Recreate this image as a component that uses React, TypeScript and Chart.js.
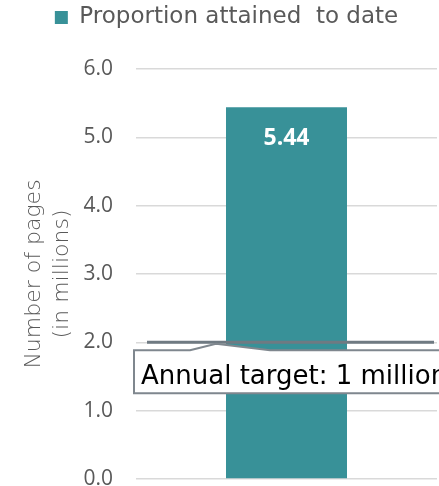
import { useEffect, useRef } from "react";
import { Chart, registerables } from "chart.js";

Chart.register(...registerables);

const categories = [""];
const seriesLabel = "Proportion attained  to date";
const attainedValues = [5.44];
const targetValues = [2.0];
const targetLabel = "Annual target: 1 million";
const yAxisTitle = ["Number of pages", "(in millions)"];
const yMin = 0;
const yMax = 6;
const yStep = 1;

const TEAL = "#389198";

const layoutTweaks = {
  id: "layoutTweaks",
  beforeLayout(chart: any) {
    const lg = chart.legend;
    if (lg && !lg.__patched) {
      const fit = lg.fit;
      lg.fit = function (this: any) {
        fit.call(this);
        this.height += 30;
      };
      lg.__patched = true;
    }
  },
  afterLayout(chart: any) {
    const lg = chart.legend;
    if (lg) {
      lg.left += 8;
      lg.right += 8;
    }
  },
};

const barLabels = {
  id: "barLabels",
  afterDatasetsDraw(chart: any) {
    const meta = chart.getDatasetMeta(0);
    const ctx = chart.ctx;
    meta.data.forEach((el: any, i: number) => {
      ctx.save();
      ctx.font = "bold 23px 'Open Sans'";
      ctx.fillStyle = "#ffffff";
      ctx.textAlign = "center";
      ctx.textBaseline = "middle";
      ctx.fillText(attainedValues[i].toFixed(2), el.x, el.y + 31);
      ctx.restore();
    });
  },
};

const targetCallout = {
  id: "targetCallout",
  afterDraw(chart: any) {
    const ctx = chart.ctx;
    const { left, right } = chart.chartArea;
    const y = chart.scales.y.getPixelForValue(targetValues[0]);
    ctx.save();
    // target line
    ctx.strokeStyle = "#6f7a82";
    ctx.lineWidth = 3;
    ctx.beginPath();
    ctx.moveTo(left + 11, y);
    ctx.lineTo(right - 3, y);
    ctx.stroke();
    // callout box
    const top = y + 8;
    const bottom = y + 51;
    const bx = left - 2;
    const ex = chart.width + 10;
    ctx.beginPath();
    ctx.moveTo(bx, top);
    ctx.lineTo(left + 54, top);
    ctx.lineTo(left + 80, y + 1.5);
    ctx.lineTo(left + 134, top);
    ctx.lineTo(ex, top);
    ctx.lineTo(ex, bottom);
    ctx.lineTo(bx, bottom);
    ctx.closePath();
    ctx.fillStyle = "#ffffff";
    ctx.fill();
    ctx.strokeStyle = "#7f878e";
    ctx.lineWidth = 2;
    ctx.stroke();
    ctx.font = "26px 'DejaVu Sans'";
    ctx.fillStyle = "#000000";
    ctx.textAlign = "left";
    ctx.textBaseline = "alphabetic";
    ctx.fillText(targetLabel, left + 5, y + 42);
    ctx.restore();
  },
};

export default function App() {
  const ref = useRef<HTMLCanvasElement | null>(null);

  useEffect(() => {
    document.body.style.margin = "0";
    const canvas = ref.current;
    if (!canvas) return;
    const chart = new Chart(canvas, {
      type: "bar",
      data: {
        labels: categories,
        datasets: [
          {
            label: seriesLabel,
            data: attainedValues,
            backgroundColor: TEAL,
            borderWidth: 0,
            categoryPercentage: 1,
            barPercentage: 0.402,
          },
        ],
      },
      options: {
        responsive: false,
        animation: false,
        layout: { padding: { top: 0, left: 0, right: 2, bottom: 7 } },
        plugins: {
          legend: {
            display: true,
            position: "top",
            labels: {
              boxWidth: 13,
              boxHeight: 13,
              padding: 6,
              color: "#595959",
              font: { family: "'DejaVu Sans'", size: 23 },
            },
          },
          tooltip: { enabled: false },
        },
        scales: {
          x: {
            display: false,
            ticks: { display: false },
            grid: { display: false },
          },
          y: {
            min: yMin,
            max: yMax,
            ticks: {
              stepSize: yStep,
              padding: 23,
              color: "#595959",
              font: { family: "'Open Sans'", size: 21 },
              callback: (v: any) => Number(v).toFixed(1),
            },
            grid: { color: "#d9d9d9", lineWidth: 1.5, drawTicks: false },
            border: { display: false },
            title: {
              display: true,
              text: yAxisTitle,
              color: "#595959",
              font: { family: "'DejaVu Sans'", size: 22, weight: "300" as any, lineHeight: 1.25 },
              padding: { top: 21, bottom: 0 },
            },
            afterFit(scale: any) {
              scale.width = 136;
              scale.paddingTop = 0;
              scale.paddingBottom = 0;
            },
          },
        },
      },
      plugins: [layoutTweaks, barLabels, targetCallout],
    });
    return () => chart.destroy();
  }, []);

  return (
    <div style={{ width: 439, height: 486 }}>
      <canvas ref={ref} width={439} height={486} style={{ display: "block" }} />
    </div>
  );
}
